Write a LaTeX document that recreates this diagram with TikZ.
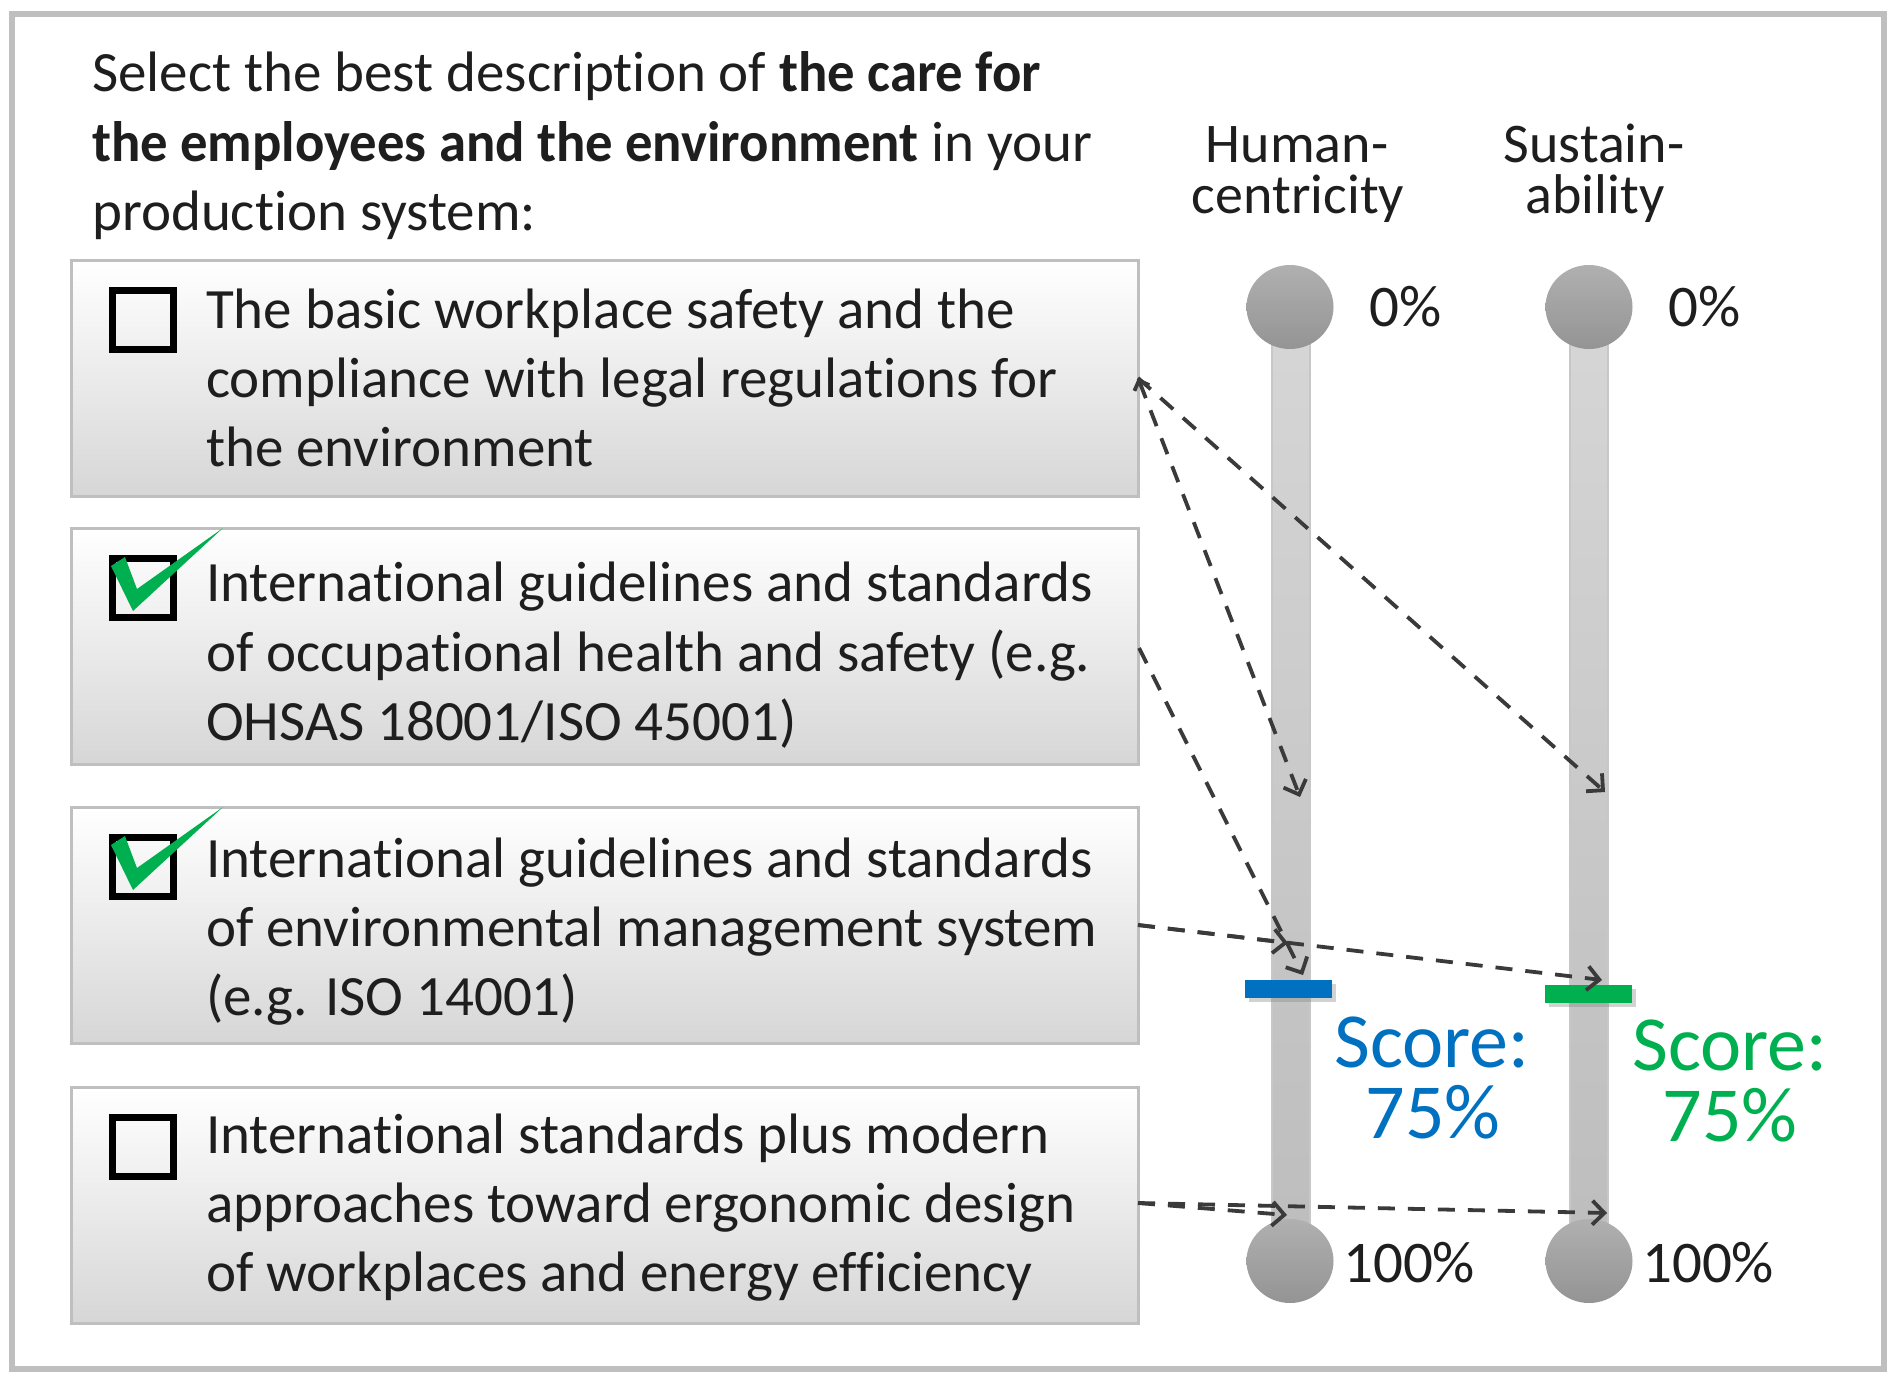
\documentclass[tikz,border=0pt]{standalone}
\usepackage{fontspec}
\setmainfont{Carlito}[Ligatures={NoCommon,NoContextual}, BoldFeatures={FakeStretch=0.96}]
\usetikzlibrary{arrows.meta,shadows}
\definecolor{frameg}{HTML}{BFBFBF}
\definecolor{boxline}{HTML}{BFBFBF}
\definecolor{arr}{HTML}{3A3A3A}
\definecolor{sblue}{HTML}{0070C0}
\definecolor{sgreen}{HTML}{00B050}
\definecolor{txtc}{HTML}{1E1E1E}
\begin{document}
\begin{tikzpicture}[x=1pt,y=-1pt,
  optbox/.style={draw=boxline, line width=2.5pt, top color=white, bottom color=black!16,
    anchor=north west, minimum width=1067pt, minimum height=236pt, inner sep=0pt},
  chkbox/.style={draw=black, line width=7pt, minimum width=61pt, minimum height=59pt, inner sep=0pt},
  txt/.style={anchor=base west, inner sep=0pt, font=\fontsize{57}{67}\selectfont, text=txtc},
  head/.style={anchor=base, inner sep=0pt, font=\fontsize{56}{60}\selectfont, text=txtc},
  pct/.style={anchor=base west, inner sep=0pt, font=\fontsize{59}{67}\selectfont, text=txtc},
  score/.style={anchor=base, inner sep=0pt, font=\fontsize{78}{80}\selectfont},
  marker/.style={minimum width=87pt, minimum height=18pt, inner sep=0pt,
    drop shadow={opacity=0.35, shadow xshift=4pt, shadow yshift=-4pt}},
  conn/.style={draw=arr, line width=3.8pt, dash pattern=on 17pt off 13pt,
    -{Straight Barb[length=12pt,width=24pt]}},
  barst/.style={top color=black!16, bottom color=black!26, draw=black!22, line width=1.5pt},
  knobst/.style={top color=black!31, bottom color=black!42}
]
\fill[white] (0,0) rectangle (1897,1381);
\useasboundingbox (0,0) rectangle (1897,1381);
\draw[frameg, line width=6pt] (12,14) rectangle (1884,1369);

% intro text
\node[txt] (i1) at (92,92) {Select the best description of \textbf{the care for}};
\node[txt] (i2) at (92,161) {\textbf{the employees and the environment} in your};
\node[txt] (i3) at (92,230) {production system:};

% option boxes
\node[optbox] (b1) at (70,259) {};
\node[optbox] (b2) at (70,527) {};
\node[optbox] (b3) at (70,806) {};
\node[optbox] (b4) at (70,1086) {};

\node[chkbox] (c1) at (143,320) {};
\node[chkbox] (c2) at (143,588) {};
\node[chkbox] (c3) at (143,867) {};
\node[chkbox] (c4) at (143,1147) {};

\fill[sgreen] (111,566) -- (125,557) -- (137,589) -- (223,528) -- (133,611) -- cycle;
\begin{scope}[shift={(0,279)}]
\fill[sgreen] (111,566) -- (125,557) -- (137,589) -- (223,528) -- (133,611) -- cycle;
\end{scope}

\node[txt] (t11) at (206,328) {The basic workplace safety and the};
\node[txt] (t12) at (206,397) {compliance with legal regulations for};
\node[txt] (t13) at (206,466) {the environment};
\node[txt] (t21) at (206,601) {International guidelines and standards};
\node[txt] (t22) at (206,671) {of occupational health and safety (e.g.};
\node[txt] (t23) at (206,740) {OHSAS 18001/ISO 45001)};
\node[txt] (t31) at (206,877) {International guidelines and standards};
\node[txt] (t32) at (206,946) {of environmental management system};
\node[txt] (t33) at (206,1015) {(e.g. ISO 14001)};
\node[txt] (t41) at (206,1153) {International standards plus modern};
\node[txt] (t42) at (206,1222) {approaches toward ergonomic design};
\node[txt] (t43) at (206,1291) {of workplaces and energy efficiency};

% headings
\node[head] (h1a) at (1297,162) {Human-};
\node[head] (h1b) at (1298,213) {centricity};
\node[head] (h2a) at (1594,162) {Sustain-};
\node[head] (h2b) at (1595,213) {ability};

% sliders
\shade[barst] (1272,307) rectangle (1310,1261);
\shade[barst] (1570,307) rectangle (1608,1261);
\shade[knobst] (1290,307) ellipse [x radius=43.5, y radius=42];
\shade[knobst] (1290,1261) ellipse [x radius=43.5, y radius=42];
\shade[knobst] (1589,307) ellipse [x radius=43.5, y radius=42];
\shade[knobst] (1589,1261) ellipse [x radius=43.5, y radius=42];
\node[marker, fill=sblue] (mh) at (1288.5,988.5) {};
\node[marker, fill=sgreen] (ms) at (1588.5,994) {};

\node[pct] (p1) at (1369,326) {0\%};
\node[pct] (p2) at (1668,326) {0\%};
\node[pct] (p3) at (1343,1282) {100\%};
\node[pct] (p4) at (1642,1282) {100\%};

\node[score, text=sblue] (sc1) at (1432,1067) {Score:};
\node[score, text=sblue] (sv1) at (1433,1138) {75\%};
\node[score, text=sgreen] (sc2) at (1730,1070) {Score:};
\node[score, text=sgreen] (sv2) at (1730,1141) {75\%};

% connectors
\coordinate (s1) at (1138,378);
\coordinate (e1h) at (1300,797);
\coordinate (e1g) at (1605,792);
\coordinate (s2) at (1139,648);
\coordinate (e2h) at (1303,975);
\coordinate (s3) at (1138,925);
\coordinate (e3h) at (1288,943);
\coordinate (e3g) at (1602,980);
\coordinate (s4) at (1138,1203);
\coordinate (e4h) at (1287,1215);
\coordinate (e4g) at (1607,1213);

\draw[conn, {Straight Barb[length=8pt,width=16pt]}-{Straight Barb[length=12pt,width=24pt]}] (s1) -- (e1h);
\draw[conn] (s1) -- (e1g);
\draw[conn] (s2) -- (e2h);
\draw[conn] (s3) -- (e3h);
\draw[conn] (s3) -- (e3g);
\draw[conn] (s4) -- (e4h);
\draw[conn] (s4) -- (e4g);
\end{tikzpicture}
\end{document}
